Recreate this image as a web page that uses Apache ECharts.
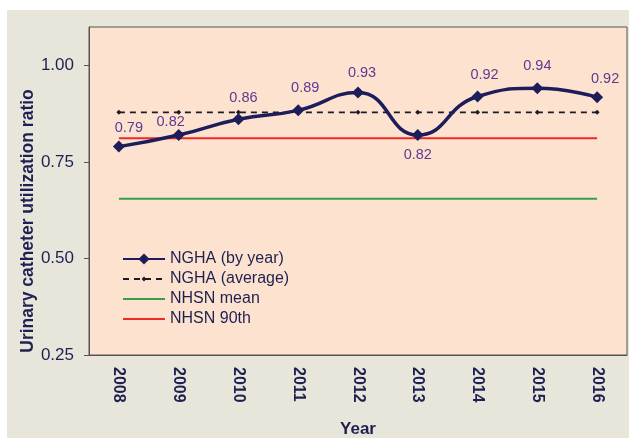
<!DOCTYPE html>
<html>
<head>
<meta charset="utf-8">
<script src="https://cdn.jsdelivr.net/npm/echarts@6/dist/echarts.min.js"></script>
<style>
  html, body { margin: 0; padding: 0; background: #ffffff; }
  #chart { position: absolute; left: 7px; top: 10px; width: 622px; height: 428px; background: #e8e6db; }
</style>
</head>
<body>
<div id="chart"></div>
<script>
const years = ["2008", "2009", "2010", "2011", "2012", "2013", "2014", "2015", "2016"];
const byYear = [0.79, 0.82, 0.861, 0.884, 0.93, 0.82, 0.92, 0.941, 0.918];
const byYearLabels = ["0.79", "0.82", "0.86", "0.89", "0.93", "0.82", "0.92", "0.94", "0.92"];
const average = [0.879, 0.879, 0.879, 0.879, 0.879, 0.879, 0.879, 0.879, 0.879];
const nhsnMean = [0.655, 0.655, 0.655, 0.655, 0.655, 0.655, 0.655, 0.655, 0.655];
const nhsn90th = [0.812, 0.812, 0.812, 0.812, 0.812, 0.812, 0.812, 0.812, 0.812];

const navy = "#1e1d5c";
const textColor = "#1d2050";
const labelColor = "#5b3a92";
const font = "Liberation Sans, Arial, sans-serif";

// label nudges (dx, dy) from each point, like the hand-placed Excel labels
const labelNudge = [[10, -19], [-8, -13], [5, -21], [7, -22], [4, -20], [0, 20], [7, -21], [0, -22], [8, -18]];

const chart = echarts.init(document.getElementById("chart"));

const legendText = { color: textColor, fontSize: 16, fontFamily: font };

chart.setOption({
  animation: false,
  textStyle: { fontFamily: font },
  grid: {
    left: 82,
    top: 17,
    right: 2,
    bottom: 83,
    outerBoundsMode: "none",
    containLabel: false,
    show: true,
    backgroundColor: "#fde3cf",
    borderColor: "#555555",
    borderWidth: 1
  },
  legend: [
    {
      orient: "vertical",
      left: 115,
      top: 241,
      padding: 0,
      itemWidth: 42,
      itemHeight: 14,
      itemGap: 4,
      textGap: 1,
      textStyle: legendText,
      data: ["NGHA (by year)"]
    },
    {
      orient: "vertical",
      left: 115,
      top: 261,
      padding: 0,
      itemWidth: 42,
      itemHeight: 6,
      itemGap: 4,
      textGap: 1,
      textStyle: legendText,
      data: [
        "NGHA (average)",
        { name: "NHSN mean", itemStyle: { opacity: 0 } },
        { name: "NHSN 90th", itemStyle: { opacity: 0 } }
      ]
    }
  ],
  xAxis: {
    type: "category",
    data: years,
    boundaryGap: true,
    name: "Year",
    nameLocation: "middle",
    nameGap: 66,
    nameTextStyle: { color: textColor, fontSize: 17, fontWeight: "bold" },
    axisLine: { lineStyle: { color: "#555555" } },
    axisTick: { lineStyle: { color: "#555555" }, length: 5 },
    axisLabel: {
      rotate: -90,
      color: textColor,
      fontSize: 16,
      fontWeight: "bold",
      margin: 12
    }
  },
  yAxis: {
    type: "value",
    min: 0.25,
    max: 1.1,
    interval: 0.25,
    name: "Urinary catheter utilization ratio",
    nameLocation: "middle",
    nameGap: 52,
    nameMoveOverlap: false,
    nameTextStyle: {
      color: textColor,
      fontSize: 17.5,
      fontWeight: "bold",
      padding: [0, 60, 0, 0]
    },
    splitLine: { show: false },
    axisLine: { show: true, lineStyle: { color: "#555555" } },
    axisTick: { show: true, length: 5, lineStyle: { color: "#555555" } },
    axisLabel: {
      color: textColor,
      fontSize: 17,
      margin: 15,
      showMaxLabel: false,
      formatter: v => v.toFixed(2)
    }
  },
  series: [
    {
      name: "NHSN mean",
      type: "line",
      data: nhsnMean,
      symbol: "none",
      lineStyle: { color: "#35a048", width: 2 },
      itemStyle: { color: "#35a048" },
      z: 1
    },
    {
      name: "NHSN 90th",
      type: "line",
      data: nhsn90th,
      symbol: "none",
      lineStyle: { color: "#f02828", width: 2 },
      itemStyle: { color: "#f02828" },
      z: 1
    },
    {
      name: "NGHA (average)",
      type: "line",
      data: average,
      symbol: "diamond",
      symbolSize: 5,
      lineStyle: { color: "#1a1a2a", width: 1.75, type: [6, 5] },
      itemStyle: { color: "#1a1a2a" },
      z: 2
    },
    {
      name: "NGHA (by year)",
      type: "line",
      data: byYear,
      smooth: 0.5,
      symbol: "diamond",
      symbolSize: 12,
      lineStyle: { color: navy, width: 3.5 },
      itemStyle: { color: navy },
      label: {
        show: true,
        position: "inside",
        color: labelColor,
        fontSize: 14.5,
        formatter: p => byYearLabels[p.dataIndex]
      },
      labelLayout: function (params) {
        const n = labelNudge[params.dataIndex];
        return { dx: n[0], dy: n[1] };
      },
      z: 3
    }
  ]
});
</script>
</body>
</html>
